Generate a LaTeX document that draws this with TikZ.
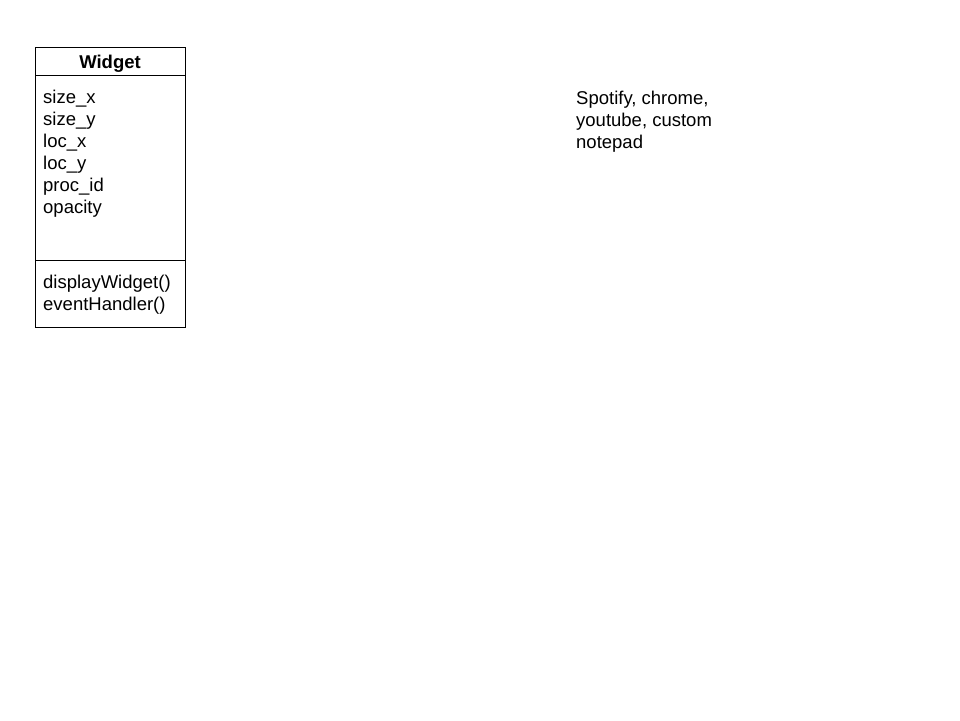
\documentclass[tikz,border=0pt]{standalone}
\usepackage{fontspec}
\setmainfont{Liberation Sans}
\usetikzlibrary{positioning}
\tikzset{
	classpart/.style={draw=black, line width=1pt, minimum width=150pt, inner sep=0pt, outer sep=0pt},
	classtext/.style={anchor=base west, align=left, inner sep=0pt, font=\fontsize{18.5}{22}\selectfont},
}
\begin{document}
\begin{tikzpicture}[x=1pt,y=-1pt]
				\useasboundingbox (0,0) rectangle (960,720);
				\node[classpart, minimum height=28pt, anchor=north west] (head) at (35,47) {};
				\node[classpart, minimum height=185pt, below=0pt of head] (attrs) {};
				\node[classpart, minimum height=67pt, below=0pt of attrs] (meths) {};
				% multi-line texts sit on the baseline of their last line
				\node[classtext, anchor=base] (name) at (110,68) {\textbf{Widget}};
				\node[classtext] (attrlist) at (43,213) {size\_x\\size\_y\\loc\_x\\loc\_y\\proc\_id\\opacity};
				\node[classtext] (methlist) at (43,310) {displayWidget()\\eventHandler()};
				\node[classtext] (note) at (576,148.5) {Spotify, chrome,\\youtube, custom\\notepad};
			\end{tikzpicture}
\end{document}
